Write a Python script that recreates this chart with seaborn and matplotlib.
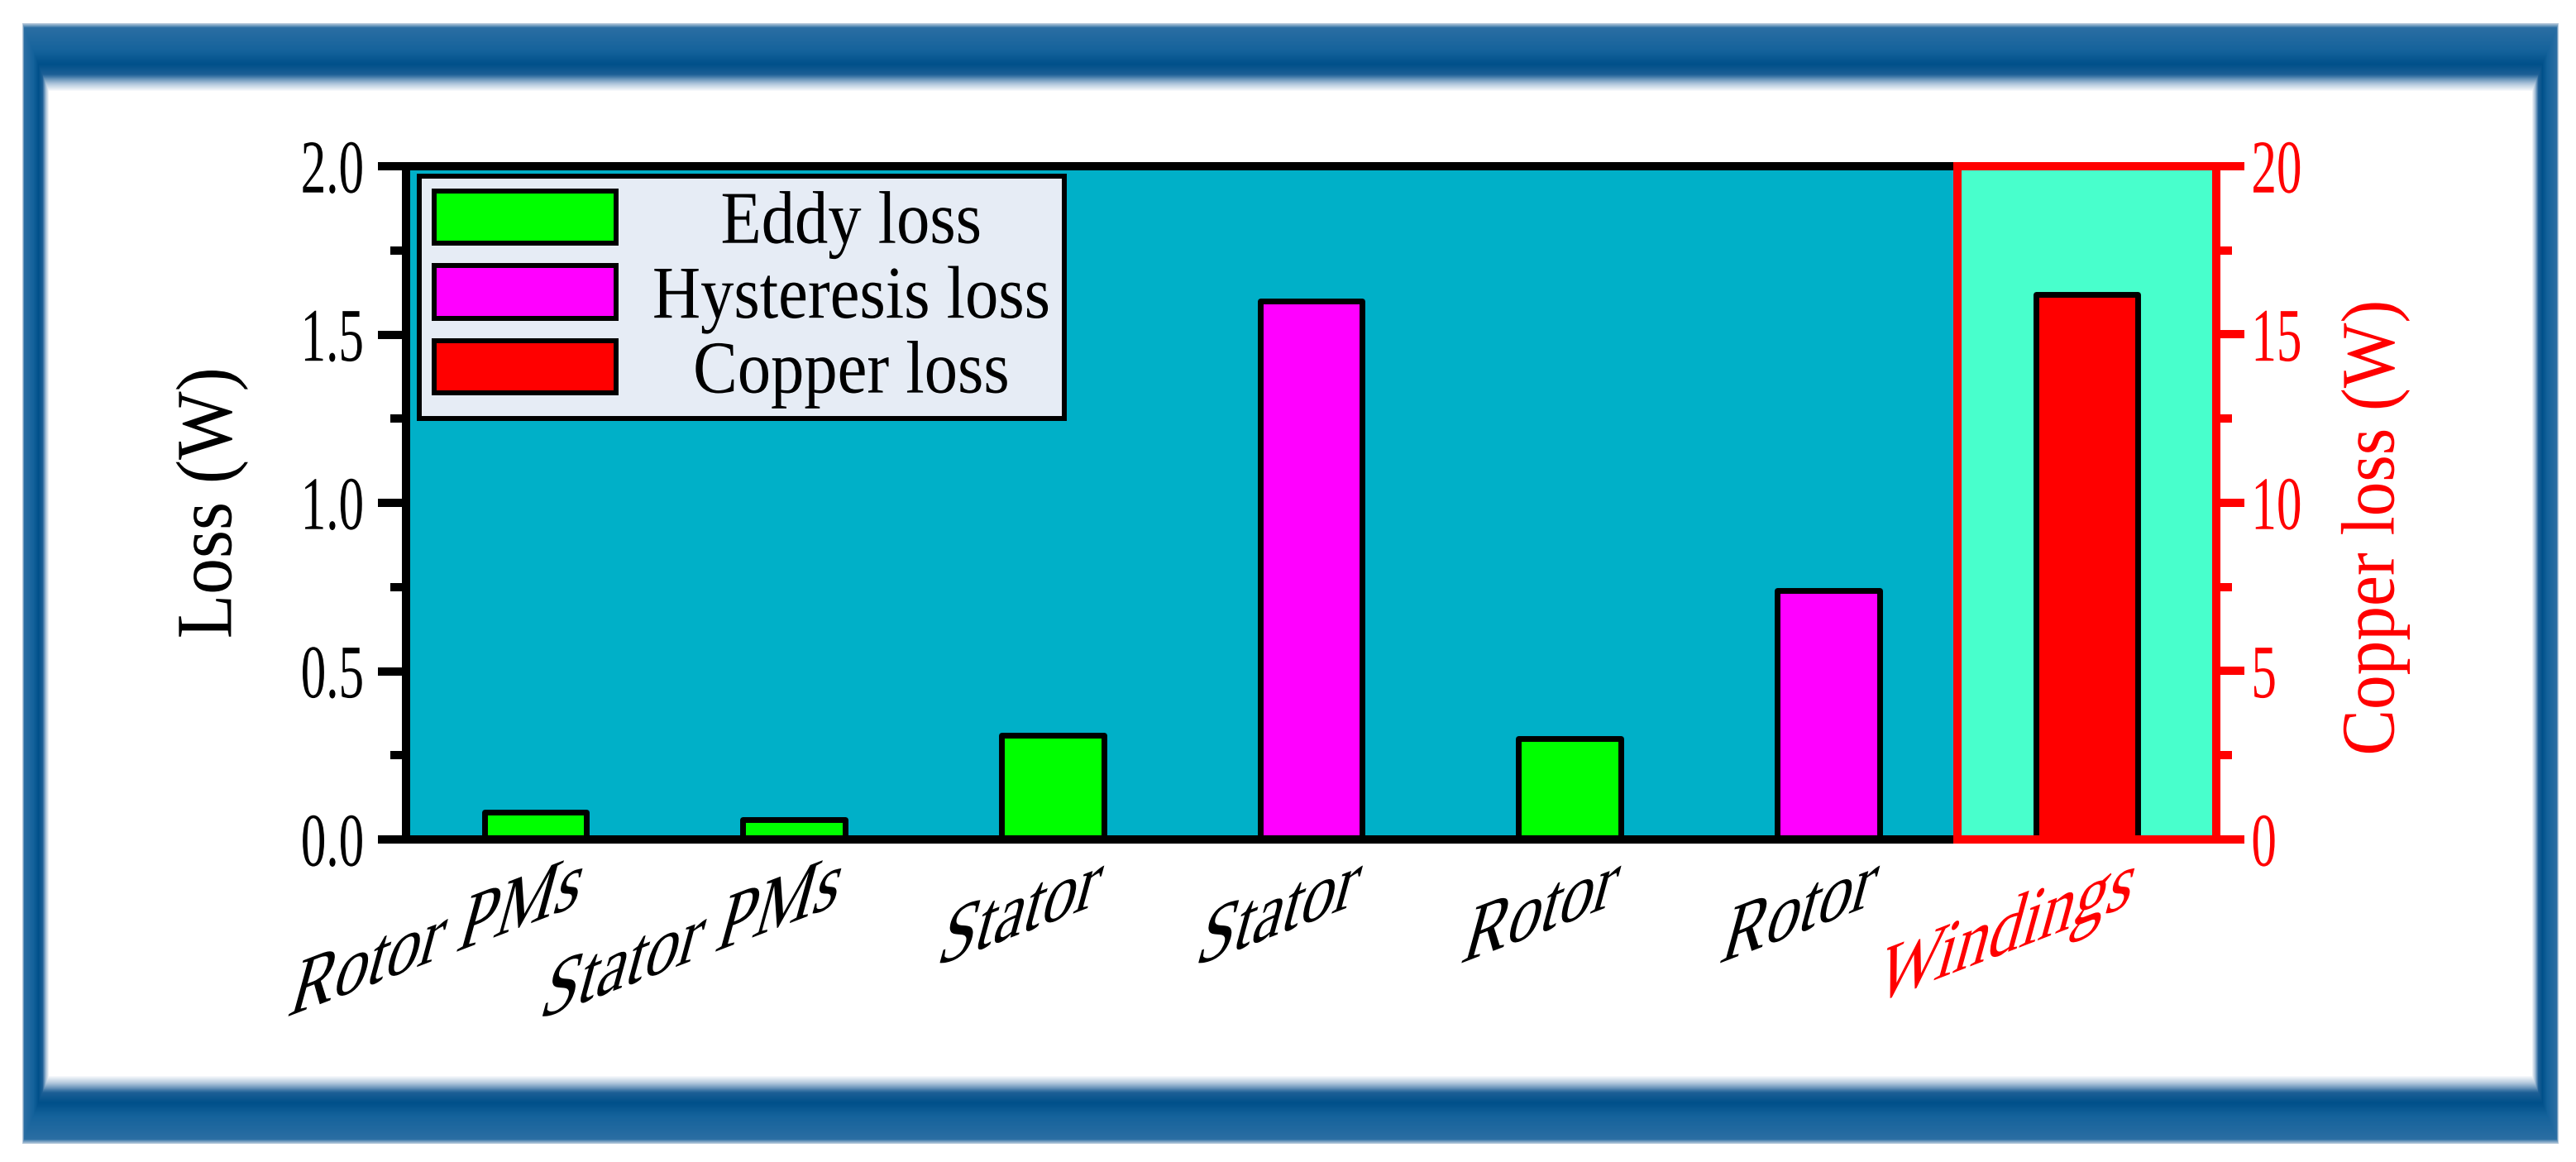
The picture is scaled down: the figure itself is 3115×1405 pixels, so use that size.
"""
Loss breakdown bar chart: core losses (left axis) and copper loss (right axis).
"""

import numpy as np
import pandas as pd
import matplotlib
matplotlib.use('Agg')
import matplotlib.pyplot as plt
import matplotlib.patches as mpatches
import matplotlib.patheffects as patheffects
import matplotlib.transforms as mtransforms
from matplotlib.colors import LinearSegmentedColormap
from matplotlib.ticker import AutoMinorLocator, FormatStrFormatter
import seaborn as sns

# ---- data ----
slot_labels = ['Rotor PMs', 'Stator PMs', 'Stator', 'Stator', 'Rotor', 'Rotor', 'Windings']
label_colors = ['black', 'black', 'black', 'black', 'black', 'black', 'red']
core_slots = [0, 1, 2, 3, 4, 5]
core_types = ['Eddy loss', 'Eddy loss', 'Eddy loss', 'Hysteresis loss', 'Eddy loss', 'Hysteresis loss']
core_losses = [0.08, 0.06, 0.31, 1.60, 0.30, 0.74]
copper_slots = [6]
copper_losses = [16.2]
left_ticks = [0.0, 0.5, 1.0, 1.5, 2.0]
right_ticks = [0, 5, 10, 15, 20]

type_colors = {'Eddy loss': '#00FF00', 'Hysteresis loss': '#FF00FF', 'Copper loss': '#FF0000'}
TEAL = '#00B0C8'
AQUA = '#48FFCC'

W, H, DPI = 3115, 1405, 100

sns.set_style('white')
plt.rcParams['font.family'] = ['Liberation Serif', 'DejaVu Serif']
plt.rcParams['text.color'] = 'black'
plt.rcParams['axes.labelcolor'] = 'black'


class Glyph(patheffects.AbstractPathEffect):
    """Reshape text glyphs (Origin look): stretch, skew and undo a rotation
    about a pivot point given in glyph units (1 em = 100)."""

    def __init__(self, sx=1.0, sy=1.0, xshear=0, yshear=0, rot=0, px=0, cy=0):
        super().__init__()
        self._tr = (mtransforms.Affine2D().translate(-px, -cy).scale(sx, sy)
                    .skew_deg(xshear, 0).skew_deg(0, yshear).rotate_deg(-rot)
                    .translate(px, cy))

    def draw_path(self, renderer, gc, tpath, affine, rgbFace=None):
        renderer.draw_path(gc, tpath, self._tr + affine, rgbFace)


def frame_image(w, h):
    """Bevelled dark-blue border around the figure."""
    profile = LinearSegmentedColormap.from_list('frame', [
        (0.00, '#B5C8DA'), (0.06, '#2B6EA3'), (0.40, '#15639C'),
        (0.60, '#00508A'), (0.75, '#1D5F96'), (0.88, '#A8C1D8'), (1.00, '#FFFFFF')])
    yy, xx = np.mgrid[0:h, 0:w]
    x0, x1, y0, y1 = 27, 3093, 28, 1382
    tx = np.minimum(xx - x0, x1 - xx) / 32.0
    ty = np.minimum(yy - y0, y1 - yy) / 82.0
    t = np.minimum(tx, ty)
    img = np.ones((h, w, 3), dtype=np.float32)
    band = (t >= 0) & (t < 1)
    img[band] = profile(t[band])[:, :3]
    return img


fig = plt.figure(figsize=(W / DPI, H / DPI), dpi=DPI, facecolor='white')

# background frame
ax_bg = fig.add_axes([0, 0, 1, 1])
ax_bg.imshow(frame_image(W, H), extent=(0, W, H, 0), aspect='auto', interpolation='nearest')
ax_bg.set_xlim(0, W)
ax_bg.set_ylim(H, 0)
ax_bg.axis('off')

# main axes
left, right, top, bottom = 491, 2680, 201, 1015
ax = fig.add_axes([left / W, 1 - bottom / H, (right - left) / W, (bottom - top) / H])
ax.set_facecolor(TEAL)

core_df = pd.DataFrame({'slot': core_slots, 'loss': core_losses, 'type': core_types})
copper_df = pd.DataFrame({'slot': copper_slots, 'loss': copper_losses})
order = list(range(len(slot_labels)))

sns.barplot(data=core_df, x='slot', y='loss', hue='type', order=order,
            hue_order=['Eddy loss', 'Hysteresis loss'], palette=type_colors,
            dodge=False, width=0.395, saturation=1, errorbar=None,
            edgecolor='black', linewidth=5, joinstyle='round', legend=False, ax=ax)

ax.add_patch(mpatches.Rectangle((5.5, 0), 1, 2, facecolor=AQUA, edgecolor='none', zorder=0.5))

ax2 = ax.twinx()
sns.barplot(data=copper_df, x='slot', y='loss', order=order, color=type_colors['Copper loss'],
            width=0.395, saturation=1, errorbar=None, edgecolor='black', linewidth=5,
            joinstyle='round', ax=ax2)
ax2.add_patch(mpatches.Rectangle((5.5, 0), 1, 20, fill=False, edgecolor='red', lw=7.2,
                                 zorder=5, clip_on=False))

# limits and ticks
ax.set_xlim(-0.5, len(slot_labels) - 0.5)
ax.set_ylim(0, 2)
ax2.set_ylim(0, 20)
ax.set_xticks(order)
ax.set_xticklabels([''] * len(order))
ax.set_xlabel('')
ax2.set_xlabel('')
ax.set_yticks(left_ticks)
ax.yaxis.set_major_formatter(FormatStrFormatter('%.1f'))
ax.yaxis.set_minor_locator(AutoMinorLocator(2))
ax2.set_yticks(right_ticks)
ax2.yaxis.set_minor_locator(AutoMinorLocator(2))

ax.tick_params(axis='y', which='major', direction='out', length=24.5, width=7.2, pad=-1.5,
               labelsize=55, colors='black')
ax.tick_params(axis='y', which='minor', direction='out', length=13.7, width=7.2, colors='black')
ax.tick_params(axis='x', which='major', direction='out', length=24, width=6, colors='black')
ax.tick_params(axis='x', which='minor', bottom=False)
ax2.tick_params(axis='y', which='major', direction='out', length=24.5, width=7.2, pad=6,
                labelsize=55, colors='red')
ax2.tick_params(axis='y', which='minor', direction='out', length=14, width=7.2, colors='red')
ax.xaxis.get_major_ticks()[-1].tick1line.set_color('red')

# condensed, tall digits like the original
for lbl in ax.get_yticklabels() + ax2.get_yticklabels():
    lbl.set_path_effects([Glyph(sx=0.8, sy=1.2, cy=34)])

for name, sp in ax.spines.items():
    sp.set_linewidth(7.2)
    sp.set_color('black')
ax.spines['right'].set_visible(False)
for name in ['left', 'top', 'bottom']:
    ax2.spines[name].set_visible(False)
ax2.spines['right'].set_linewidth(7.2)
ax2.spines['right'].set_color('red')

# axis labels
ax.set_ylabel('Loss (W)', fontsize=63, color='black')
ax.yaxis.set_label_coords(-0.088, 0.5)
ax.yaxis.label.set_path_effects([Glyph(sy=1.1)])
ax2.set_ylabel('Copper loss (W)', fontsize=60, color='red')
ax2.yaxis.set_label_coords(1.0717, 0.463)
ax2.yaxis.label.set_path_effects([Glyph(sy=1.1)])

# legend
handles = [mpatches.Patch(facecolor=type_colors[k], edgecolor='black', linewidth=4.3,
                          joinstyle='round', label=k)
           for k in ['Eddy loss', 'Hysteresis loss', 'Copper loss']]
leg = ax2.legend(handles=handles, loc='upper left', bbox_to_anchor=(507 / W, 1 - 213 / H),
                 bbox_transform=fig.transFigure, borderaxespad=0, fontsize=58,
                 handlelength=2.73, handleheight=0.84, labelspacing=0.17, borderpad=0.22,
                 handletextpad=0.55, fancybox=False, framealpha=1)
leg.get_frame().set_facecolor('#E6ECF5')
leg.get_frame().set_edgecolor('black')
leg.get_frame().set_linewidth(4.3)
for t in leg.get_texts():
    t.set_color('black')
    t.set_path_effects([Glyph(sy=1.12, cy=33)])

# slanted category labels: rotated text, glyphs re-sheared about the right end
renderer = fig.canvas.get_renderer()
slant = 21
label_offset = mtransforms.ScaledTranslation(50 / DPI, -80 / DPI, fig.dpi_scale_trans)
for i, (name, col) in enumerate(zip(slot_labels, label_colors)):
    t = ax.text(i, 0, name, ha='right', va='baseline', rotation=slant, rotation_mode='anchor',
                fontsize=58, color=col, clip_on=False,
                transform=ax.get_xaxis_transform() + label_offset)
    w_px = renderer.get_text_width_height_descent(name, t.get_fontproperties(), ismath=False)[0]
    w_em = w_px * 100 / renderer.points_to_pixels(t.get_fontsize())
    t.set_path_effects([Glyph(sy=1.15, xshear=17, yshear=slant, rot=slant, px=w_em)])

fig.canvas.draw()

# centre legend entries in their column
texts = leg.get_texts()
widths = [t.get_window_extent(renderer).width for t in texts]
wmax = max(widths)
for t, w in zip(texts, widths):
    t.set_x((wmax - w) / 2)

fig.savefig('out.png', dpi=DPI, facecolor='white')
